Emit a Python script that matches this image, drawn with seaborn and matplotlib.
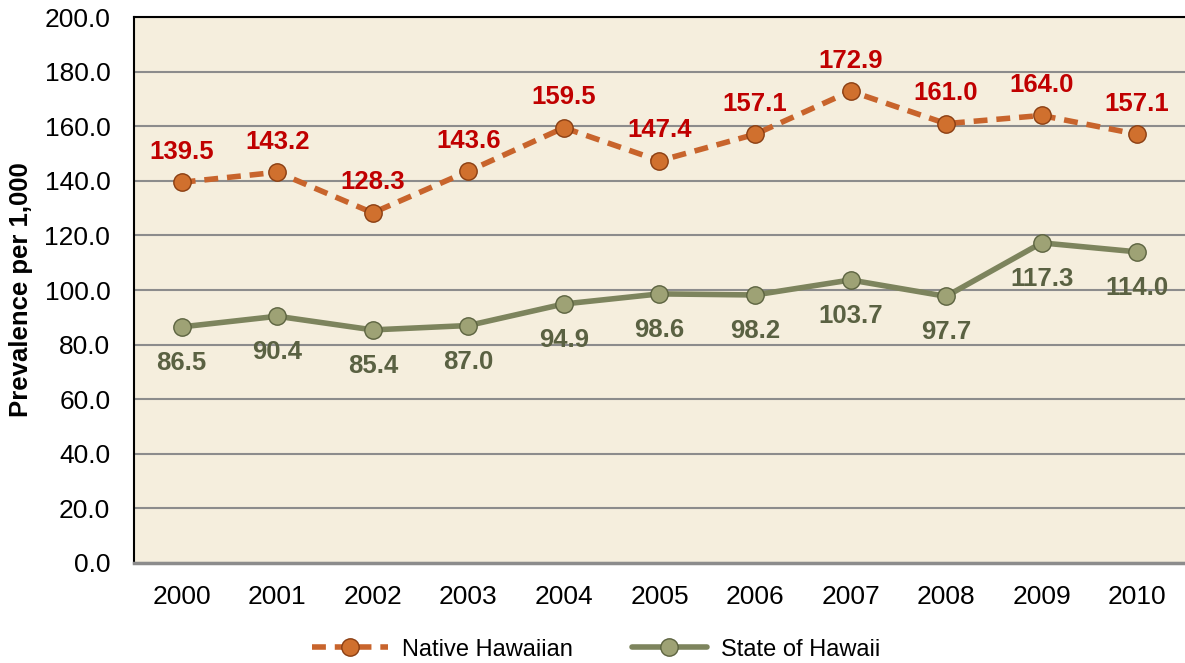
import pandas as pd
import matplotlib
matplotlib.use("Agg")
import matplotlib.pyplot as plt
import seaborn as sns

years = [2000, 2001, 2002, 2003, 2004, 2005, 2006, 2007, 2008, 2009, 2010]
native = [139.5, 143.2, 128.3, 143.6, 159.5, 147.4, 157.1, 172.9, 161.0, 164.0, 157.1]
state = [86.5, 90.4, 85.4, 87.0, 94.9, 98.6, 98.2, 103.7, 97.7, 117.3, 114.0]
y_ticks = [0, 20, 40, 60, 80, 100, 120, 140, 160, 180, 200]

sns.set_style("white")
plt.rcParams["font.family"] = ["Liberation Sans", "DejaVu Sans"]
plt.rcParams["text.color"] = "black"
plt.rcParams["axes.labelcolor"] = "black"
plt.rcParams["xtick.color"] = "black"
plt.rcParams["ytick.color"] = "black"

df = pd.DataFrame({"year": years, "Native Hawaiian": native, "State of Hawaii": state})

fig = plt.figure(figsize=(11.85, 6.63), dpi=100)
ax = fig.add_axes([0.113, 0.151, 0.887, 0.823])
ax.set_facecolor("#F5EEDD")

orange = "#C8642C"
olive = "#7D845D"

sns.lineplot(data=df, x="year", y="Native Hawaiian", ax=ax, color=orange,
             linewidth=4, dashes=False, linestyle=(0, (2.5, 1.6)),
             marker="o", markersize=12.5, markerfacecolor="#D0702E",
             markeredgecolor="#8A3E12", markeredgewidth=1.0,
             label="Native Hawaiian")
sns.lineplot(data=df, x="year", y="State of Hawaii", ax=ax, color=olive,
             linewidth=4, marker="o", markersize=12.5,
             markerfacecolor="#9EA275", markeredgecolor="#5C6340",
             markeredgewidth=1.0, label="State of Hawaii")

for x, v in zip(years, native):
    ax.annotate(f"{v:.1f}", (x, v), xytext=(0, 22), textcoords="offset points",
                ha="center", va="center", color="#C00000",
                fontsize=18.5, fontweight="bold")
for x, v in zip(years, state):
    ax.annotate(f"{v:.1f}", (x, v), xytext=(0, -26), textcoords="offset points",
                ha="center", va="center", color="#5A6142",
                fontsize=18.5, fontweight="bold")

ax.set_xlim(1999.5, 2010.5)
ax.set_ylim(0, 200)
ax.set_xticks(years)
ax.set_xticklabels([str(y) for y in years])
ax.set_yticks(y_ticks)
ax.set_yticklabels([f"{t:.1f}" for t in y_ticks])
ax.yaxis.grid(True, color="#8C8C8C", linewidth=1.5)
ax.set_axisbelow(True)
ax.tick_params(axis="both", labelsize=19, length=0, labelcolor="black")
ax.tick_params(axis="y", pad=17)
ax.tick_params(axis="x", pad=16)
ax.set_xlabel("")
ax.set_ylabel("Prevalence per 1,000", fontsize=18.5, fontweight="bold", color="black")
ax.yaxis.set_label_coords(-0.096, 0.5)

ax.spines["right"].set_visible(False)
ax.spines["left"].set_color("black")
ax.spines["left"].set_linewidth(1.5)
ax.spines["top"].set_color("black")
ax.spines["top"].set_linewidth(1.5)
ax.spines["bottom"].set_color("#8C8C8C")
ax.spines["bottom"].set_linewidth(2.5)

leg = ax.legend(loc="upper center", bbox_to_anchor=(0.44, -0.1), ncol=2, frameon=False,
                fontsize=17, handlelength=3.2, columnspacing=2.5, handletextpad=0.6)
for t in leg.get_texts():
    t.set_color("black")

fig.savefig("out.png", dpi=100)
